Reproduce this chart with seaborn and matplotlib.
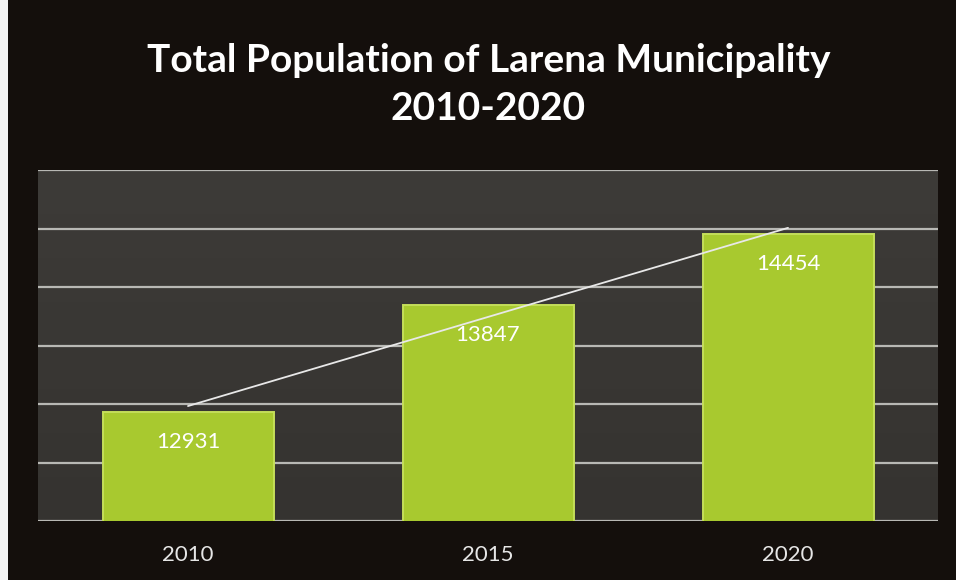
import numpy as np
import pandas as pd
import matplotlib
matplotlib.use("Agg")
import matplotlib.pyplot as plt
import seaborn as sns

years = ["2010", "2015", "2020"]
population = [12931, 13847, 14454]
title = "Total Population of Larena Municipality\n2010-2020"

sns.set_theme(style="dark")
plt.rcParams['font.family'] = ['Lato', 'DejaVu Sans']

df = pd.DataFrame({"year": years, "population": population})

fig = plt.figure(figsize=(9.56, 5.8), dpi=100, facecolor="#140f0c")
ax = fig.add_axes([38/956, 59/580, 900/956, 351/580])
ax.set_facecolor("#393734")

# subtle gradient for plot area
grad = np.linspace(0, 1, 256).reshape(-1, 1)
ax.imshow(grad, extent=[-0.5, 2.5, 12000, 15000], aspect="auto",
          cmap=matplotlib.colors.LinearSegmentedColormap.from_list("g", ["#3d3b38", "#353330"]),
          origin="upper", zorder=0)

sns.barplot(data=df, x="year", y="population", color="#a8c92f", width=0.57,
            saturation=1, ax=ax, zorder=3, edgecolor="#c4de5a", linewidth=1.4)

ax.set_ylim(12000, 15000)
ax.set_xlim(-0.5, 2.5)
ax.set_yticks(np.arange(12000, 15001, 500))
ax.yaxis.grid(True, color="#b8b8b4", linewidth=1.6, zorder=1)
ax.xaxis.grid(False)
ax.set_axisbelow(True)
ax.set_yticklabels([])
ax.tick_params(axis="y", length=0)
ax.tick_params(axis="x", length=0, colors="#e6e6e6", labelsize=16, pad=17)
ax.set_xlabel("")
ax.set_ylabel("")
for s in ax.spines.values():
    s.set_visible(False)

# value labels inside bars
for i, v in enumerate(population):
    ax.text(i, v - 255, str(v), ha="center", va="center", color="white",
            fontsize=16, zorder=5)

# linear trendline
xs = np.arange(len(population))
m, b = np.polyfit(xs, population, 1)
ax.plot([xs[0], xs[-1]], [m*xs[0]+b, m*xs[-1]+b], color="#e8e8e8", linewidth=1.3, zorder=4)

fig.text(0.511, 0.855, title, ha="center", va="center", color="white",
         fontsize=28, fontweight="bold", linespacing=1.45)

# light scan edge on left
fig.patches.append(plt.Rectangle((0, 0), 8/956, 1, transform=fig.transFigure,
                                 facecolor="#f4f4f4", edgecolor="none", zorder=10))

fig.savefig("out.png", dpi=100, facecolor=fig.get_facecolor())
